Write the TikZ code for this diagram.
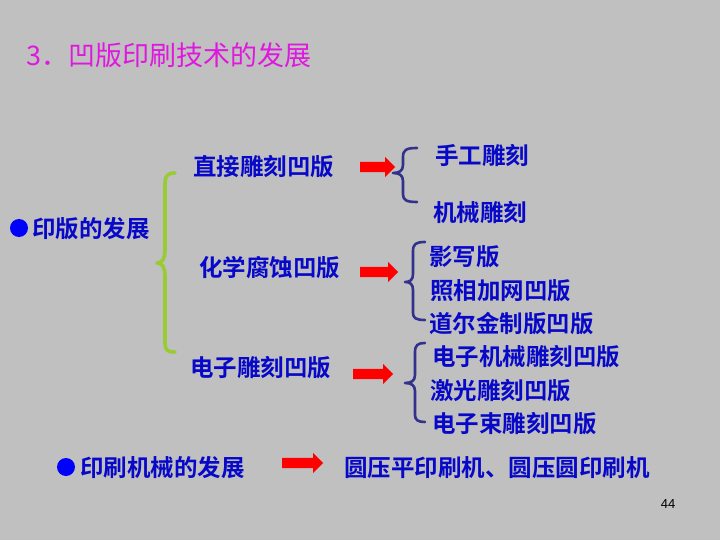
\documentclass[tikz,border=0pt]{standalone}
\usepackage{fontspec}
\usetikzlibrary{shapes.arrows}
\newfontfamily\cjk{Noto Sans CJK SC}
\newfontfamily\cjkb{Noto Sans CJK SC Bold}
\setmainfont{Liberation Sans}
\definecolor{bg}{RGB}{192,192,192}
\definecolor{txtblue}{RGB}{8,8,200}
\definecolor{bullblue}{RGB}{0,0,255}
\definecolor{titlemag}{RGB}{222,24,222}
\definecolor{bracecol}{RGB}{50,50,140}
\definecolor{greenbr}{RGB}{153,204,51}
\definecolor{arrred}{RGB}{255,0,0}
\tikzset{
  lbl/.style={anchor=west, inner sep=0pt, yshift=-6pt, text=txtblue, font=\cjkb\fontsize{23.5}{26}\selectfont, text height=0.88em, text depth=0.12em},
  redarr/.style={single arrow, fill=arrred, draw=none, inner xsep=0pt, inner ysep=5pt, single arrow head extend=5pt, minimum height=#1, anchor=west, shape border rotate=0},
  bull/.style={circle, fill=bullblue, draw=none, inner sep=0pt, minimum size=18pt},
  bracestyle/.style={draw=bracecol, line width=2.6pt, line cap=round, line join=round},
  gbracestyle/.style={draw=greenbr, line width=3.6pt, line cap=round, line join=round}
}
\begin{document}
\begin{tikzpicture}[x=1pt,y=-1pt]
\useasboundingbox (0,0) rectangle (720,540);
\fill[bg] (0,0) rectangle (720,540);
% title
\node[anchor=west, inner sep=0pt, yshift=-7pt, text=titlemag, font=\cjk\fontsize{27}{30}\selectfont, text height=0.88em, text depth=0.12em] (title) at (26,55) {3．凹版印刷技术的发展};
% left level
\node[bull] (b1) at (19,228) {};
\node[lbl] (yb) at (32,228) {印版的发展};
% green brace
\path[gbracestyle] (175,173) .. controls (167,173) and (165,176) .. (165,184) -- (165,250) .. controls (165,259) and (162,263) .. (157,263) .. controls (162,263) and (165,267) .. (165,276) -- (165,342) .. controls (165,350) and (167,352) .. (175,352);
% middle column
\node[lbl] (m1) at (193,166) {直接雕刻凹版};
\node[lbl] (m2) at (199,267) {化学腐蚀凹版};
\node[lbl] (m3) at (190,367) {电子雕刻凹版};
% arrows
\node[redarr=35pt] (a1) at (360,167) {};
\node[redarr=38pt] (a2) at (360,272) {};
\node[redarr=40pt] (a3) at (353,374) {};
\node[redarr=41pt] (a4) at (282,463) {};
% braces
\path[bracestyle] (417,148) .. controls (406,148) and (403,150) .. (403,157) -- (403,165) .. controls (403,171) and (399,173) .. (393,173) .. controls (399,173) and (403,175) .. (403,181) -- (403,194) .. controls (403,200) and (406,202) .. (417,202);
\path[bracestyle] (425,242) .. controls (416,242) and (413,244) .. (413,251) -- (413,274) .. controls (413,280) and (410,282) .. (405,282) .. controls (410,282) and (413,284) .. (413,290) -- (413,313) .. controls (413,318) and (416,320) .. (425,320);
\path[bracestyle] (425,343) .. controls (418,343) and (415,345) .. (415,352) -- (415,375) .. controls (415,381) and (411,383) .. (405,383) .. controls (411,383) and (415,385) .. (415,391) -- (415,415) .. controls (415,420) and (418,422) .. (425,422);
% right column
\node[lbl] (r1) at (435,155) {手工雕刻};
\node[lbl] (r2) at (433,212) {机械雕刻};
\node[lbl] (r3) at (429,256) {影写版};
\node[lbl] (r4) at (430,290) {照相加网凹版};
\node[lbl] (r5) at (429,323) {道尔金制版凹版};
\node[lbl] (r6) at (432,356) {电子机械雕刻凹版};
\node[lbl] (r7) at (430,390) {激光雕刻凹版};
\node[lbl] (r8) at (432,423) {电子束雕刻凹版};
% bottom row
\node[bull] (b2) at (66,467) {};
\node[lbl] (ys) at (80,467) {印刷机械的发展};
\node[lbl] (yr) at (344,467) {圆压平印刷机、圆压圆印刷机};
% page number
\node[anchor=center, inner sep=0pt, font=\fontsize{13}{15}\selectfont] (pn) at (668,504) {44};
\end{tikzpicture}
\end{document}
